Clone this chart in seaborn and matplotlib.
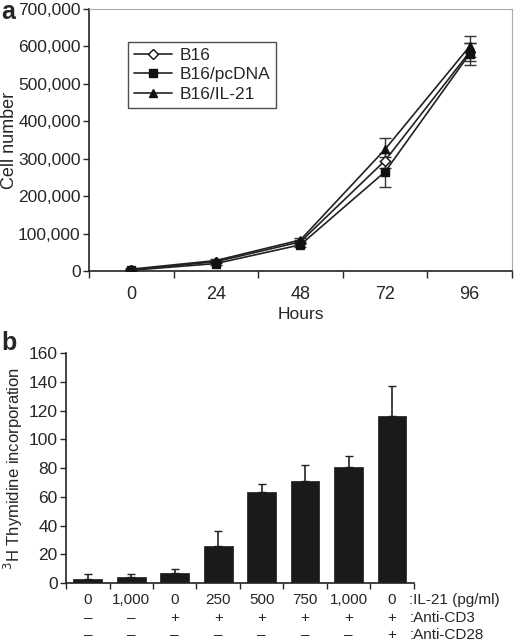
import matplotlib
matplotlib.use("Agg")
import matplotlib.pyplot as plt
import matplotlib.transforms as mtransforms
import seaborn as sns
import numpy as np
import pandas as pd

sns.set_style("ticks")
plt.rcParams["font.family"] = ["Liberation Sans", "DejaVu Sans"]
plt.rcParams["font.size"] = 12.5

# panel a: growth curves
hours = ["0", "24", "48", "72", "96"]
b16 = [3000, 25000, 78000, 295000, 585000]
b16_pcdna = [2000, 20000, 70000, 265000, 580000]
b16_il21 = [5000, 28000, 83000, 325000, 600000]
b16_err = [2000, 4000, 6000, 20000, 25000]
b16_pcdna_err = [2000, 4000, 6000, 40000, 30000]
b16_il21_err = [2000, 4000, 6000, 30000, 28000]

# panel b: thymidine incorporation
il21_dose = ["0", "1,000", "0", "250", "500", "750", "1,000", "0"]
anti_cd3 = ["\u2013", "\u2013", "+", "+", "+", "+", "+", "+"]
anti_cd28 = ["\u2013", "\u2013", "\u2013", "\u2013", "\u2013", "\u2013", "\u2013", "+"]
thymidine = [3, 4, 7, 26, 63, 71, 81, 116]
thymidine_err = [3, 2, 2.5, 10, 6, 11, 7.5, 21]

fig = plt.figure(figsize=(5.16, 6.43), dpi=100)

# ---- panel a ----
ax1 = fig.add_axes([0.1725, 0.5785, 0.8195, 0.4075])
df_a = pd.DataFrame({
    "pos": list(range(len(hours))) * 3,
    "cells": b16 + b16_pcdna + b16_il21,
    "err": b16_err + b16_pcdna_err + b16_il21_err,
    "line": ["B16"] * 5 + ["B16/pcDNA"] * 5 + ["B16/IL-21"] * 5,
})
styles = {
    "B16": dict(marker="D", mfc="white", ms=5),
    "B16/pcDNA": dict(marker="s", mfc="#111111", ms=6),
    "B16/IL-21": dict(marker="^", mfc="#111111", ms=6),
}
for name, st in styles.items():
    sub = df_a[df_a["line"] == name]
    ax1.errorbar(sub["pos"], sub["cells"], yerr=sub["err"], fmt="none",
                 ecolor="#333333", elinewidth=1, capsize=4, zorder=2)
    sns.lineplot(data=sub, x="pos", y="cells", ax=ax1, color="#222222",
                 linewidth=1.2, marker=st["marker"], markersize=st["ms"],
                 markerfacecolor=st["mfc"], markeredgecolor="#111111",
                 markeredgewidth=1, label=name, zorder=3)

ax1.set_xlim(-0.5, 4.5)
ax1.set_ylim(0, 700000)
ax1.set_yticks(np.arange(0, 700001, 100000))
ax1.set_yticklabels([f"{v:,}" for v in range(0, 700001, 100000)])
ax1.set_xticks(range(len(hours)))
ax1.set_xticklabels(hours)
ax1.set_xticks(np.arange(-0.5, 4.6, 1), minor=True)
ax1.tick_params(axis="x", which="major", length=0, pad=11, labelsize=13)
ax1.tick_params(axis="x", which="minor", length=5, direction="out", width=1)
ax1.tick_params(axis="y", length=4, direction="out", width=1, pad=2,
                labelsize=12.5)
ax1.set_xlabel("Hours", labelpad=3, fontsize=12.5)
ax1.set_ylabel("Cell number", fontsize=13)
ax1.yaxis.set_label_coords(-0.168, 0.5)
for s in ["top", "right"]:
    ax1.spines[s].set_color("#aaaaaa")
for s in ["left", "bottom"]:
    ax1.spines[s].set_color("#222222")
    ax1.spines[s].set_linewidth(1.2)
leg = ax1.legend(loc="upper left", bbox_to_anchor=(0.092, 0.875), frameon=True,
                 fancybox=False, edgecolor="#222222", handlelength=2.2,
                 borderpad=0.35, labelspacing=0.25, handletextpad=0.4,
                 borderaxespad=0, fontsize=12.5)
leg.get_frame().set_linewidth(1)
fig.text(0.002, 1.0, "a", fontsize=18, fontweight="bold", va="top")

# ---- panel b ----
ax2 = fig.add_axes([0.128, 0.0933, 0.674, 0.3577])
df_b = pd.DataFrame({"cond": [str(i) for i in range(len(thymidine))],
                     "val": thymidine})
sns.barplot(data=df_b, x="cond", y="val", ax=ax2, color="#1a1a1a",
            width=0.66, edgecolor="#1a1a1a", linewidth=0.5, saturation=1)
ax2.errorbar(range(len(thymidine)), thymidine,
             yerr=[np.zeros(len(thymidine)), thymidine_err], fmt="none",
             ecolor="#222222", elinewidth=1.2, capsize=3, zorder=0)
ax2.set_xlim(-0.5, len(thymidine) - 0.5)
ax2.set_ylim(0, 160)
ax2.set_yticks(np.arange(0, 161, 20))
ax2.set_xticks(np.arange(-0.5, len(thymidine), 1))
ax2.set_xticklabels([])
ax2.tick_params(axis="x", length=4, direction="out", width=1)
ax2.tick_params(axis="y", length=4, direction="out", width=1, pad=2,
                labelsize=12.5)
ax2.set_xlabel("")
ax2.set_ylabel("$^3$H Thymidine incorporation", fontsize=12)
ax2.yaxis.set_label_coords(-0.118, 0.5)
sns.despine(ax=ax2)
for s in ["left", "bottom"]:
    ax2.spines[s].set_color("#222222")
    ax2.spines[s].set_linewidth(1.2)

trans = mtransforms.blended_transform_factory(ax2.transData, fig.transFigure)
rows = [(il21_dose, ":IL-21 (pg/ml)", 0.067),
        (anti_cd3, ":Anti-CD3", 0.039),
        (anti_cd28, ":Anti-CD28", 0.012)]
for labels, title, y in rows:
    for i, lab in enumerate(labels):
        ax2.text(i, y, lab, transform=trans, ha="center", va="center",
                 fontsize=11)
    ax2.text(7.4, y, title, transform=trans, ha="left", va="center",
             fontsize=11)
fig.text(0.002, 0.486, "b", fontsize=18, fontweight="bold", va="top")

fig.savefig("out.png", dpi=100)
